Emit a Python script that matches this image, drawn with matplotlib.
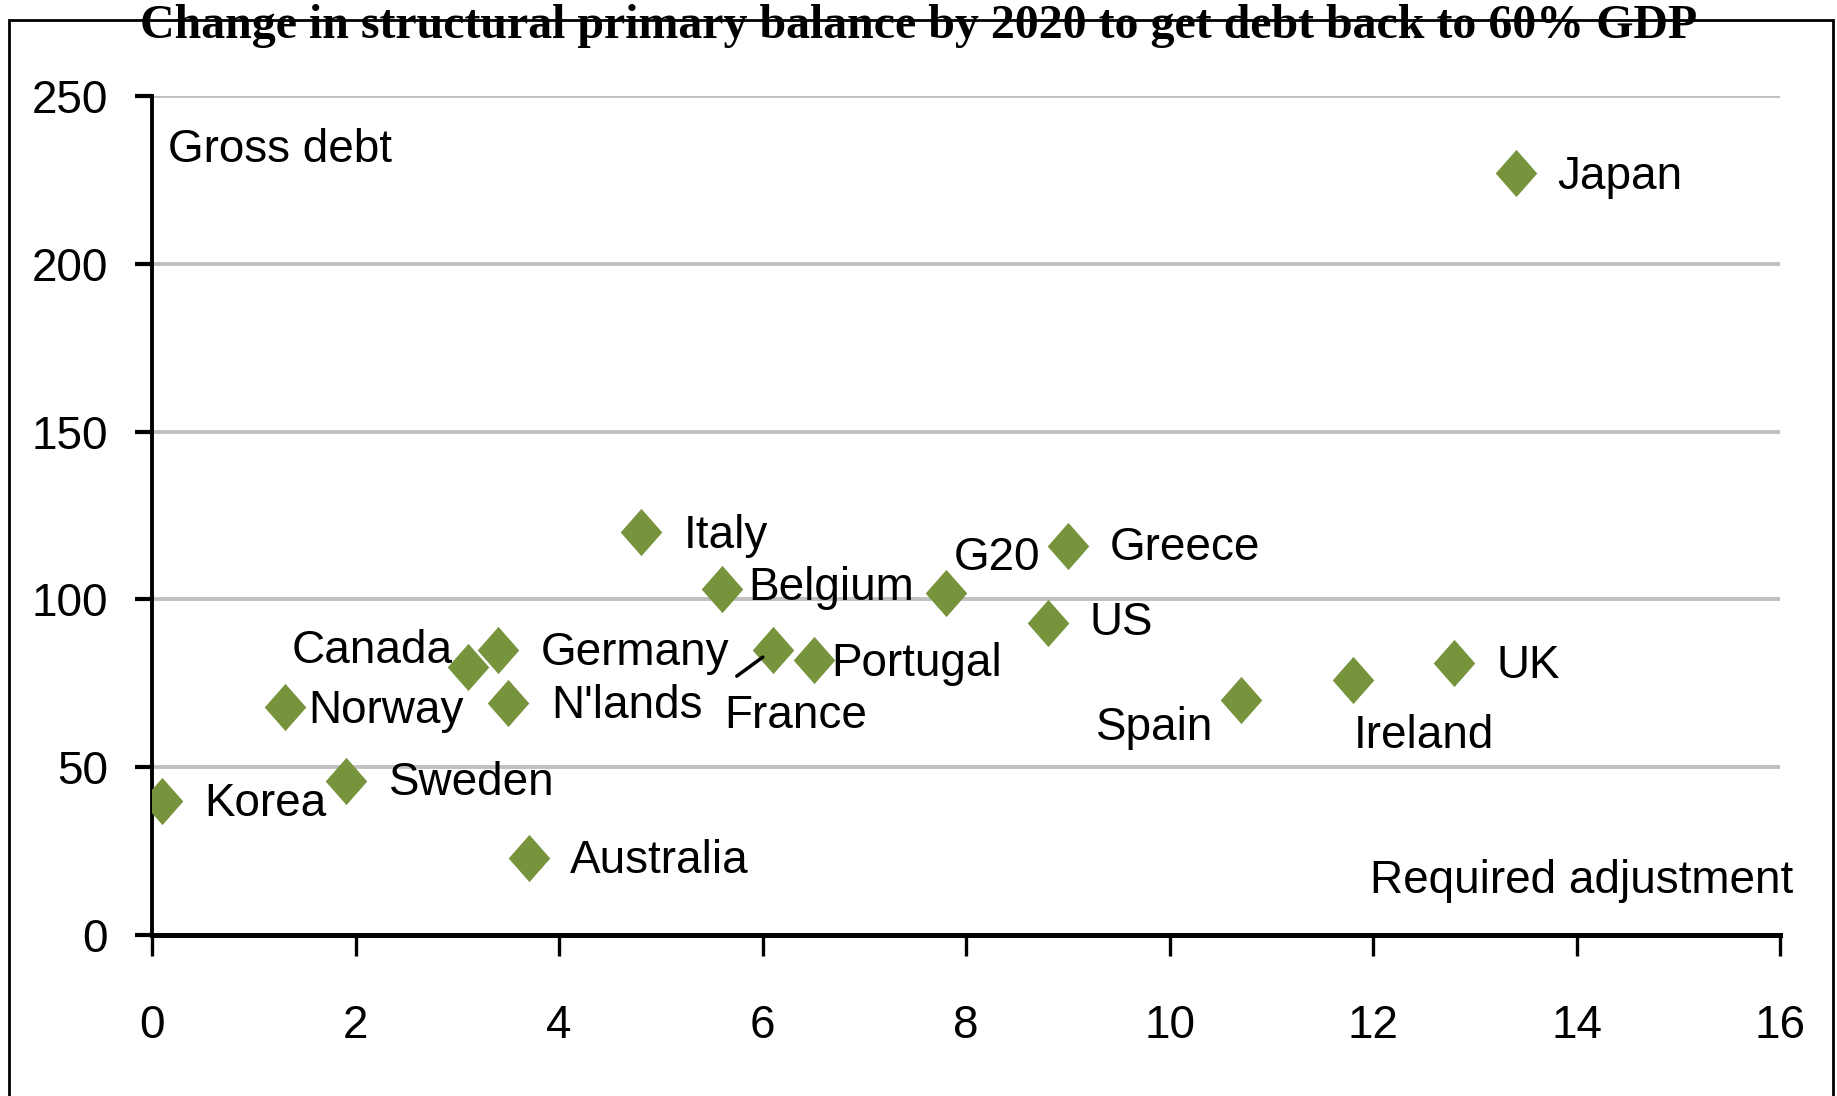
import matplotlib
matplotlib.use("Agg")
import matplotlib.pyplot as plt
from matplotlib.patches import Rectangle

# required adjustment (% GDP) vs gross debt (% GDP)
countries = ["Korea", "Norway", "Sweden", "Canada", "Germany", "N'lands", "Australia",
             "Italy", "Belgium", "France", "Portugal", "G20", "US", "Greece",
             "Spain", "Ireland", "UK", "Japan"]
adjustment = [0.1, 1.3, 1.9, 3.1, 3.4, 3.5, 3.7,
              4.8, 5.6, 6.1, 6.5, 7.8, 8.8, 9.0,
              10.7, 11.8, 12.8, 13.4]
gross_debt = [40, 68, 46, 80, 85, 69, 23,
              120, 103, 85, 82, 102, 93, 116,
              70, 76, 81, 227]

x_ticks = [0, 2, 4, 6, 8, 10, 12, 14, 16]
y_ticks = [0, 50, 100, 150, 200, 250]

# label offsets in points (dx, dy, ha)
label_pos = {
    "Korea": (30, -2, "left"), "Norway": (17, -3, "left"), "Sweden": (31, -2, "left"),
    "Canada": (-11, 11, "right"), "Germany": (31, -2, "left"), "N'lands": (31, -2, "left"),
    "Australia": (30, -2, "left"), "Italy": (31, -3, "left"), "Belgium": (19, 1, "left"),
    "France": (-35, -48, "left"), "Portugal": (13, -3, "left"), "G20": (6, 25, "left"),
    "US": (30, 0, "left"), "Greece": (30, -2, "left"), "Spain": (-20, -20, "right"),
    "Ireland": (1, -40, "left"), "UK": (30, -2, "left"), "Japan": (30, -3, "left"),
}

narrow = ["Liberation Sans Narrow", "Liberation Sans"]
fs = 33
green = "#77933C"

# slightly tall diamond marker
diamond = [(-0.88, 0), (0, 1), (0.88, 0), (0, -1), (-0.88, 0)]

fig = plt.figure(figsize=(18.37, 10.96), dpi=100)
ax = fig.add_axes([0.0829, 0.1469, 0.8861, 0.7655])

for y in y_ticks[1:]:
    ax.axhline(y, color="#C0C0C0", lw=2.8, zorder=0)

ax.plot(adjustment, gross_debt, linestyle="none", marker=diamond, ms=34,
        mew=0, color=green, zorder=3)

for name, x, y in zip(countries, adjustment, gross_debt):
    dx, dy, ha = label_pos[name]
    ax.annotate(name, (x, y), xytext=(dx, dy), textcoords="offset points",
                ha=ha, va="center", fontsize=fs, family=narrow)

# leader line for France
fi = countries.index("France")
ax.annotate("", (adjustment[fi], gross_debt[fi]), xytext=(-26, -19),
            textcoords="offset points",
            arrowprops=dict(arrowstyle="-", lw=2.5, color="black", shrinkA=0, shrinkB=9))

ax.text(0.15, 234, "Gross debt", ha="left", va="center", fontsize=fs, family=narrow)
ax.text(16.13, 16, "Required adjustment", ha="right", va="center", fontsize=fs,
        family=narrow)

ax.set_xlim(0, 16)
ax.set_ylim(0, 250)
ax.set_xticks(x_ticks)
ax.set_yticks(y_ticks)
ax.set_xticklabels([str(t) for t in x_ticks], fontsize=fs, family=narrow)
ax.set_yticklabels([str(t) for t in y_ticks], fontsize=fs, family=narrow)
ax.tick_params(axis="y", direction="out", length=12, width=3, pad=20)
ax.tick_params(axis="x", direction="out", length=15, width=2.4, pad=35)

for s in ["top", "right"]:
    ax.spines[s].set_visible(False)
ax.spines["left"].set_linewidth(2.8)
ax.spines["bottom"].set_linewidth(3.6)
ax.set_facecolor("none")

fig.patches.append(Rectangle((0.005, -0.05), 0.9928, 1.032, transform=fig.transFigure,
                             fill=False, lw=2, edgecolor="black", zorder=0))

fig.text(0.5, 0.976, "Change in structural primary balance by 2020 to get debt back to 60% GDP",
         ha="center", va="center", fontsize=34.5, fontweight="bold",
         family=["Liberation Serif", "DejaVu Serif"])

fig.savefig("out.png", dpi=100)
